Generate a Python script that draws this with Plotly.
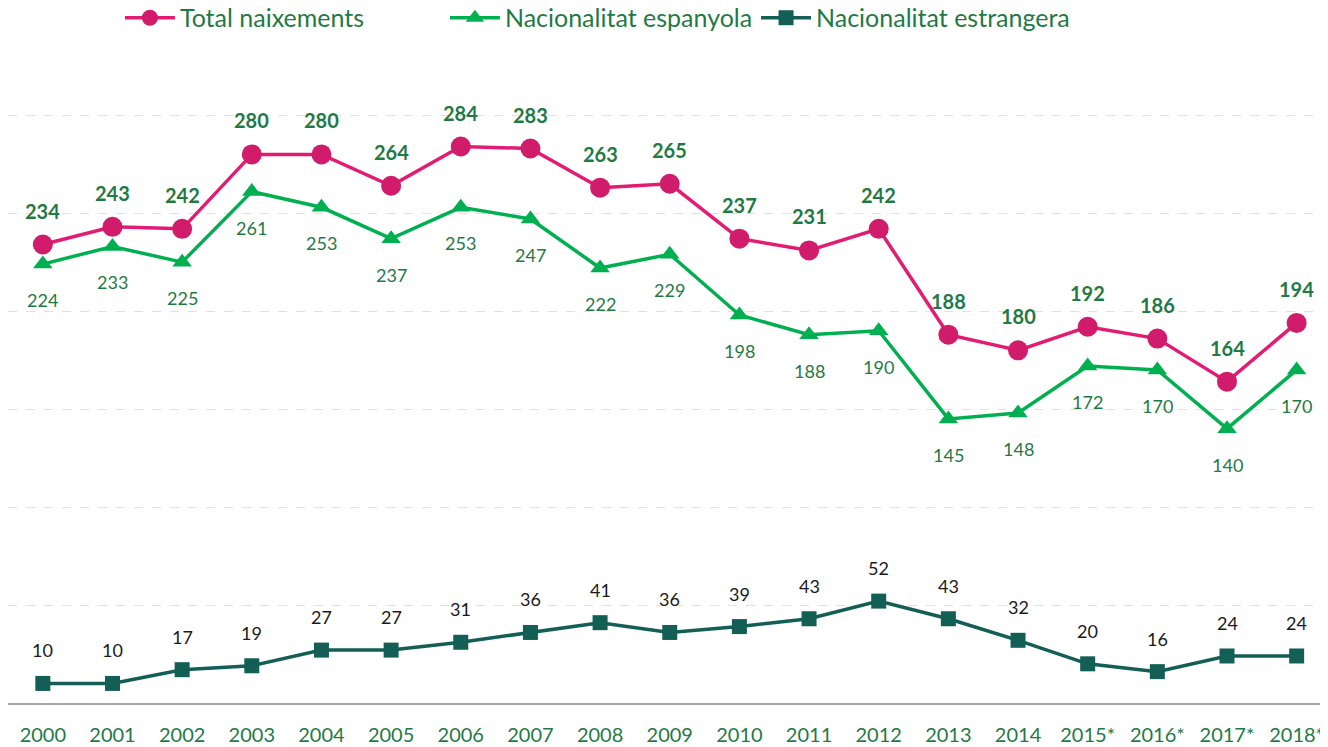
import plotly.graph_objects as go

years = ["2000", "2001", "2002", "2003", "2004", "2005", "2006", "2007", "2008", "2009",
         "2010", "2011", "2012", "2013", "2014", "2015*", "2016*", "2017*", "2018*"]
total = [234, 243, 242, 280, 280, 264, 284, 283, 263, 265, 237, 231, 242, 188, 180, 192, 186, 164, 194]
espanyola = [224, 233, 225, 261, 253, 237, 253, 247, 222, 229, 198, 188, 190, 145, 148, 172, 170, 140, 170]
estrangera = [10, 10, 17, 19, 27, 27, 31, 36, 41, 36, 39, 43, 52, 43, 32, 20, 16, 24, 24]

FONT = "Lato"
TXT_GREEN = "#1F7A45"

fig = go.Figure()
fig.add_trace(go.Scatter(x=years, y=total, name="Total naixements", mode="lines+markers",
                         line=dict(color="#E31C73", width=3.5),
                         marker=dict(symbol="circle", size=20, color="#D01C6A"),
                         legend="legend"))
fig.add_trace(go.Scatter(x=years, y=espanyola, name="Nacionalitat espanyola", mode="lines+markers",
                         line=dict(color="#00B050", width=3.5),
                         marker=dict(symbol="triangle-up", size=17, color="#00B050"),
                         legend="legend2"))
fig.add_trace(go.Scatter(x=years, y=estrangera, name="Nacionalitat estrangera", mode="lines+markers",
                         line=dict(color="#135F56", width=3.5),
                         marker=dict(symbol="square", size=15, color="#135F56"),
                         legend="legend3"))

anns = []
for i, v in enumerate(total):
    anns.append(dict(x=i, y=v, xref="x", yref="y", text=f"<b>{v}</b>", showarrow=False, yshift=34,
                     font=dict(family=FONT, size=20, color=TXT_GREEN)))
for i, v in enumerate(espanyola):
    anns.append(dict(x=i, y=v, xref="x", yref="y", text=str(v), showarrow=False, yshift=-36,
                     font=dict(family=FONT, size=18, color=TXT_GREEN)))
for i, v in enumerate(estrangera):
    anns.append(dict(x=i, y=v, xref="x", yref="y", text=str(v), showarrow=False, yshift=33,
                     font=dict(family=FONT, size=18, color="#1A1A1A")))


def leg(x):
    return dict(orientation="h", x=x, xanchor="left", yref="container", y=0.9865,
                yanchor="middle", font=dict(family=FONT, size=25, color=TXT_GREEN),
                itemwidth=50, bgcolor="rgba(0,0,0,0)")


fig.update_layout(
    width=1320, height=739,
    margin=dict(l=0, r=0, t=68, b=44),
    paper_bgcolor="white", plot_bgcolor="white",
    font=dict(family=FONT, color=TXT_GREEN),
    annotations=anns,
    showlegend=True,
    legend=leg(0.0848),
    legend2=leg(0.3310),
    legend3=leg(0.5667),
    xaxis=dict(type="category", range=[-0.5, 18.45], showgrid=False, showline=True,
               linecolor="#A6A6A6", linewidth=2, ticks="", ticklabelstandoff=13,
               tickfont=dict(family=FONT, size=20, color=TXT_GREEN), zeroline=False,
               automargin=False),
    yaxis=dict(range=[0, 320], dtick=50, showticklabels=False, showgrid=True,
               gridcolor="#D9EAC7", griddash="dash", gridwidth=1, zeroline=False,
               showline=False, automargin=False),
)

fig.write_html("out.html")
